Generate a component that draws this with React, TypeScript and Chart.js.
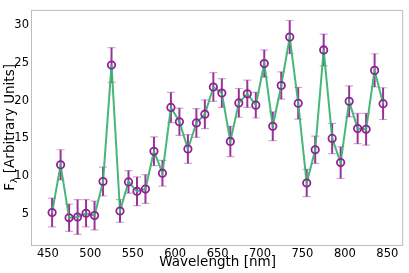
import React, { useEffect, useRef } from "react";
import { Chart, registerables } from "chart.js";

Chart.register(...registerables);

const wavelengths = [
  455, 465, 475, 485, 495, 505, 515, 525, 535, 545,
  555, 565, 575, 585, 595, 605, 615, 625, 635, 645,
  655, 665, 675, 685, 695, 705, 715, 725, 735, 745,
  755, 765, 775, 785, 795, 805, 815, 825, 835, 845,
];
const flux = [
  5.2, 11.5, 4.5, 4.6, 5.1, 4.8, 9.3, 24.7, 5.4, 9.25,
  8.0, 8.3, 13.3, 10.4, 19.1, 17.2, 13.6, 17.05, 18.2, 21.8,
  21.0, 14.6, 19.7, 20.9, 19.4, 24.9, 16.6, 22.0, 28.4, 19.65,
  9.1, 13.5, 26.7, 15.0, 11.8, 19.9, 16.3, 16.2, 24.0, 19.6,
];
const fluxErr = [
  1.9, 2.0, 1.8, 2.3, 1.8, 1.9, 1.9, 2.3, 1.5, 1.5,
  1.9, 1.9, 1.9, 1.7, 2.0, 1.8, 1.9, 1.9, 1.9, 1.9,
  1.9, 2.0, 1.9, 1.8, 1.7, 1.8, 1.9, 1.8, 2.2, 2.1,
  1.8, 1.8, 2.1, 2.0, 2.1, 2.05, 2.0, 2.1, 2.2, 2.1,
];
const xTicks = [450, 500, 550, 600, 650, 700, 750, 800, 850];
const yTicks = [5, 10, 15, 20, 25, 30];
const xLabel = "Wavelength [nm]";
const yLabelMain = "F";
const yLabelSub = "λ";
const yLabelRest = " [Arbitrary Units]";

const FONT = "'DejaVu Sans', sans-serif";

export default function App() {
  const ref = useRef<HTMLCanvasElement>(null);

  useEffect(() => {
    if (!ref.current) return;

    const errorBars = {
      id: "errorBars",
      beforeDatasetsDraw(chart: any) {
        const { ctx } = chart;
        const x = chart.scales.x;
        const y = chart.scales.y;
        ctx.save();
        wavelengths.forEach((w, i) => {
          const px = x.getPixelForValue(w);
          const top = y.getPixelForValue(flux[i] + fluxErr[i]);
          const bot = y.getPixelForValue(flux[i] - fluxErr[i]);
          ctx.strokeStyle = "rgba(128,0,128,0.8)";
          ctx.lineWidth = 2;
          ctx.beginPath();
          ctx.moveTo(px, top);
          ctx.lineTo(px, bot);
          ctx.stroke();
          ctx.strokeStyle = "rgba(128,0,128,0.35)";
          ctx.lineWidth = 1.2;
          ctx.beginPath();
          ctx.moveTo(px - 4, top);
          ctx.lineTo(px + 4, top);
          ctx.moveTo(px - 4, bot);
          ctx.lineTo(px + 4, bot);
          ctx.stroke();
        });
        ctx.restore();
      },
    };

    const frame = {
      id: "frame",
      afterDraw(chart: any) {
        const { ctx, chartArea: a } = chart;
        ctx.save();
        ctx.strokeStyle = "#bdbdbd";
        ctx.lineWidth = 1;
        ctx.strokeRect(a.left - 0.5, a.top + 0.5, a.right - a.left, a.bottom - a.top);

        ctx.fillStyle = "#000";
        ctx.font = `13.5px ${FONT}`;
        ctx.textAlign = "center";
        ctx.textBaseline = "alphabetic";
        ctx.fillText(xLabel, (a.left + a.right) / 2, 266);

        // y label with subscript
        const mainFont = `13.5px ${FONT}`;
        const subFont = `9.5px ${FONT}`;
        ctx.font = mainFont;
        const wMain = ctx.measureText(yLabelMain).width;
        const wRest = ctx.measureText(yLabelRest).width;
        ctx.font = subFont;
        const wSub = ctx.measureText(yLabelSub).width;
        const total = wMain + wSub + wRest;
        ctx.translate(14, (a.top + a.bottom) / 2);
        ctx.rotate(-Math.PI / 2);
        ctx.textAlign = "left";
        let cx = -total / 2;
        ctx.font = mainFont;
        ctx.fillText(yLabelMain, cx, 0);
        cx += wMain;
        ctx.font = subFont;
        ctx.fillText(yLabelSub, cx, 3);
        cx += wSub;
        ctx.font = mainFont;
        ctx.fillText(yLabelRest, cx, 0);
        ctx.restore();
      },
    };

    const points = wavelengths.map((w, i) => ({ x: w, y: flux[i] }));

    const chart = new Chart(ref.current, {
      type: "line",
      data: {
        datasets: [
          {
            data: points,
            showLine: false,
            pointRadius: 3.7,
            pointBorderWidth: 1.8,
            pointBorderColor: "#921f96",
            pointBackgroundColor: "rgba(0,0,0,0)",
          },
          {
            data: points,
            borderColor: "rgba(60,179,113,0.95)",
            borderWidth: 2,
            pointRadius: 0,
            fill: false,
            tension: 0,
          },
        ],
      },
      options: {
        responsive: false,
        animation: false,
        devicePixelRatio: 1,
        layout: { padding: { top: 2, right: 3, left: 0, bottom: 0 } },
        plugins: { legend: { display: false }, tooltip: { enabled: false } },
        scales: {
          x: {
            type: "linear",
            min: 431.3,
            max: 868.7,
            grid: { display: false, drawTicks: false },
            border: { display: false },
            ticks: { font: { family: FONT, size: 11.5 }, color: "#000", padding: 2, maxRotation: 0 },
            afterBuildTicks: (s: any) => {
              s.ticks = xTicks.map((v) => ({ value: v }));
            },
            afterFit: (s: any) => {
              s.height = 28;
            },
          },
          y: {
            type: "linear",
            min: 0.9,
            max: 32.0,
            grid: { display: false, drawTicks: false },
            border: { display: false },
            ticks: { font: { family: FONT, size: 11.5 }, color: "#000", padding: 3 },
            afterBuildTicks: (s: any) => {
              s.ticks = yTicks.map((v) => ({ value: v }));
            },
            afterFit: (s: any) => {
              s.width = 32;
            },
          },
        },
      },
      plugins: [errorBars, frame],
    });

    return () => chart.destroy();
  }, []);

  return (
    <div style={{ position: "fixed", left: 0, top: 0, width: 409, height: 273 }}>
      <canvas ref={ref} width={409} height={273} style={{ display: "block" }} />
    </div>
  );
}
